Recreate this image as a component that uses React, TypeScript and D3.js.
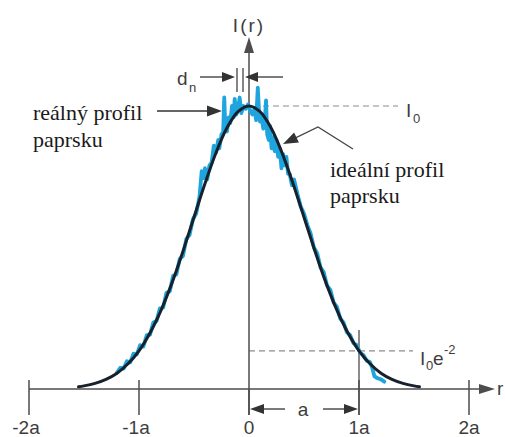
import React from "react";
import * as d3 from "d3";

// Axis ticks (in units of the beam radius a)
const tickValues = [-2, -1, 0, 1, 2];
const tickLabels = ["-2a", "-1a", "0", "1a", "2a"];

// Ideal Gaussian beam profile, I/I0 sampled along r/a
const idealR = [-1.55, -1.5, -1.4, -1.3, -1.2, -1.1, -1.0, -0.9, -0.8, -0.7, -0.6, -0.5, -0.4, -0.3, -0.2, -0.1, 0,
  0.1, 0.2, 0.3, 0.4, 0.5, 0.6, 0.7, 0.8, 0.9, 1.0, 1.1, 1.2, 1.3, 1.4, 1.5, 1.55];
const idealI = [0.008, 0.011, 0.020, 0.034, 0.056, 0.089, 0.135, 0.198, 0.278, 0.375, 0.487, 0.607, 0.726, 0.835, 0.923, 0.980, 1.0,
  0.980, 0.923, 0.835, 0.726, 0.607, 0.487, 0.375, 0.278, 0.198, 0.135, 0.089, 0.056, 0.034, 0.020, 0.011, 0.008];

// Measured (real) beam profile, I/I0 along r/a
const realR = [-1.2, -1.17, -1.14, -1.11, -1.08, -1.05, -1.02, -0.99, -0.96, -0.93, -0.9, -0.87, -0.84, -0.81, -0.78,
  -0.75, -0.72, -0.69, -0.66, -0.63, -0.6, -0.57, -0.54, -0.51, -0.48, -0.45, -0.43, -0.41, -0.4, -0.38, -0.36, -0.34,
  -0.32, -0.3, -0.28, -0.27, -0.25, -0.235, -0.225, -0.215, -0.2, -0.185, -0.17, -0.155, -0.14, -0.13, -0.115, -0.1,
  -0.085, -0.07, -0.05, -0.03, -0.01, 0.01, 0.03, 0.05, 0.065, 0.08, 0.09, 0.1, 0.115, 0.13, 0.145, 0.155, 0.165, 0.18,
  0.19, 0.205, 0.22, 0.235, 0.25, 0.265, 0.28, 0.295, 0.31, 0.325, 0.34, 0.355, 0.37, 0.39, 0.41, 0.44, 0.47, 0.5, 0.53,
  0.56, 0.59, 0.62, 0.65, 0.68, 0.71, 0.74, 0.77, 0.8, 0.83, 0.86, 0.89, 0.92, 0.95, 0.98, 1.01, 1.04, 1.07, 1.1, 1.12,
  1.14, 1.17, 1.2, 1.23];
const realI = [0.058, 0.075, 0.072, 0.098, 0.094, 0.125, 0.122, 0.155, 0.15, 0.19, 0.192, 0.235, 0.24, 0.285, 0.288,
  0.34, 0.345, 0.4, 0.405, 0.46, 0.47, 0.53, 0.545, 0.6, 0.62, 0.68, 0.77, 0.745, 0.78, 0.74, 0.79, 0.8,
  0.86, 0.835, 0.88, 0.85, 0.9, 0.905, 1.03, 0.92, 0.91, 0.96, 0.94, 1.0, 0.96, 1.025, 0.97, 0.99,
  1.03, 0.975, 1.0, 0.99, 1.005, 0.985, 0.97, 0.99, 0.95, 1.065, 0.99, 0.945, 0.96, 0.92, 0.96, 1.02, 0.9, 0.88,
  0.93, 0.85, 0.89, 0.84, 0.88, 0.82, 0.85, 0.78, 0.83, 0.79, 0.82, 0.76, 0.76, 0.72, 0.74, 0.69, 0.645, 0.62, 0.58,
  0.55, 0.5, 0.48, 0.43, 0.412, 0.365, 0.35, 0.305, 0.29, 0.248, 0.235, 0.2, 0.19, 0.162, 0.155, 0.128, 0.12, 0.1, 0.095, 0.075,
  0.045, 0.038, 0.034, 0.026];

const W = 505;
const H = 437;

const AXIS = "#4d4d4d";
const LABEL = "#3d3d3d";
const SANS = "'Liberation Sans', Arial, sans-serif";
const SERIF = "'Liberation Serif', 'Times New Roman', serif";

const x = d3.scaleLinear().domain([-2, 2]).range([29, 469]);
const y = d3.scaleLinear().domain([0, 1]).range([389, 106]);

const idealPath = d3
  .line<[number, number]>()
  .x((d) => x(d[0]))
  .y((d) => y(d[1]))
  .curve(d3.curveCatmullRom.alpha(0.5))(idealR.map((r, i) => [r, idealI[i]] as [number, number])) as string;
const realPath = d3
  .line<[number, number]>()
  .x((d) => x(d[0]))
  .y((d) => y(d[1]))
  .curve(d3.curveLinear)(realR.map((r, i) => [r, realI[i]] as [number, number])) as string;

// Filled arrowhead whose tip sits at (tx, ty), pointing along angle (radians)
function Head({ tx, ty, angle, len = 13, half = 5, fill = "#333" }: { tx: number; ty: number; angle: number; len?: number; half?: number; fill?: string }) {
  const c = Math.cos(angle);
  const s = Math.sin(angle);
  const bx = tx - c * len;
  const by = ty - s * len;
  const p = [
    [tx, ty],
    [bx - s * half, by + c * half],
    [bx + s * half, by - c * half],
  ];
  return <polygon points={p.map((q) => q.join(",")).join(" ")} fill={fill} />;
}

export default function App() {
  const x0 = x(0);
  const y0 = y(0);
  const yTop = y(1);
  const yE2 = y(0.135);
  const x1 = x(1);
  const tickTop = y0 - 9;
  const tickBottom = y0 + 26;

  // leader for the ideal-profile label
  const apex = [318, 127];
  const tip = [283, 144];
  const leadAngle = Math.atan2(tip[1] - apex[1], tip[0] - apex[0]);

  return (
    <svg
      width={W}
      height={H}
      style={{ position: "absolute", left: 0, top: 0, background: "#fff" }}
      xmlns="http://www.w3.org/2000/svg"
    >
      {/* reference levels */}
      <line x1={x0 + 14} x2={398} y1={yTop} y2={yTop} stroke="#8c8c8c" strokeWidth={1.2} strokeDasharray="6 4" />
      <line x1={x0} x2={413} y1={yE2} y2={yE2} stroke="#8c8c8c" strokeWidth={1.2} strokeDasharray="6 4" />

      {/* horizontal axis */}
      <line x1={x(-2)} x2={485} y1={y0} y2={y0} stroke={AXIS} strokeWidth={1.5} />
      <Head tx={495} ty={y0} angle={0} len={16} half={5} fill={AXIS} />
      <text x={497} y={y0 + 6} fontFamily={SANS} fontSize={19} fill={LABEL}>r</text>
      {tickValues.map((t, i) => (
        <g key={t}>
          <line x1={x(t)} x2={x(t)} y1={t === 0 ? y0 : tickTop} y2={tickBottom} stroke={AXIS} strokeWidth={1.5} />
          <text x={x(t) - (t < 0 ? 3 : 0)} y={434} textAnchor="middle" fontFamily={SANS} fontSize={19} fill={LABEL}>
            {tickLabels[i]}
          </text>
        </g>
      ))}
      {/* marker at r = a */}
      <line x1={x1} x2={x1} y1={330} y2={tickBottom} stroke={AXIS} strokeWidth={1.3} />

      {/* vertical axis */}
      <line x1={x0} x2={x0} y1={tickBottom} y2={48} stroke={AXIS} strokeWidth={1.5} />
      <Head tx={x0} ty={37} angle={Math.PI / 2 * 3} len={16} half={5} fill={AXIS} />
      <text x={x0} y={32} textAnchor="middle" fontFamily={SANS} fontSize={19} fill={LABEL} letterSpacing={2}>
        I(r)
      </text>

      {/* profiles */}
      <path d={realPath} fill="none" stroke="#1ea4de" strokeWidth={3.8} strokeLinejoin="round" strokeLinecap="round" />
      <path d={idealPath} fill="none" stroke="#17212b" strokeWidth={3} strokeLinecap="round" />

      {/* radius dimension */}
      <line x1={x0 + 10} x2={285} y1={409} y2={409} stroke="#333" strokeWidth={1.3} />
      <Head tx={x0 + 1} ty={409} angle={Math.PI} len={14} half={5} />
      <line x1={323} x2={x1 - 10} y1={409} y2={409} stroke="#333" strokeWidth={1.3} />
      <Head tx={x1 - 1} ty={409} angle={0} len={14} half={5} />
      <text x={303} y={416} textAnchor="middle" fontFamily={SANS} fontSize={19} fill={LABEL}>a</text>

      {/* noise period d_n */}
      <text x={177} y={85} fontFamily={SANS} fontSize={19} fill={LABEL}>d</text>
      <text x={189} y={92} fontFamily={SANS} fontSize={13} fill={LABEL}>n</text>
      <line x1={200} x2={226} y1={77} y2={77} stroke="#333" strokeWidth={1.3} />
      <Head tx={235} ty={77} angle={0} len={13} half={5} />
      <line x1={237} x2={237} y1={68} y2={92} stroke="#333" strokeWidth={1.2} />
      <line x1={243} x2={243} y1={68} y2={92} stroke="#333" strokeWidth={1.2} />
      <line x1={254} x2={283} y1={77} y2={77} stroke="#333" strokeWidth={1.3} />
      <Head tx={245} ty={77} angle={Math.PI} len={13} half={5} />

      {/* level labels */}
      <text x={406} y={117} fontFamily={SANS} fontSize={19} fill={LABEL}>I</text>
      <text x={413} y={123} fontFamily={SANS} fontSize={13} fill={LABEL}>0</text>
      <text x={420} y={365} fontFamily={SANS} fontSize={19} fill={LABEL}>I</text>
      <text x={426} y={370} fontFamily={SANS} fontSize={13} fill={LABEL}>0</text>
      <text x={433} y={365} fontFamily={SANS} fontSize={19} fill={LABEL}>e</text>
      <text x={444} y={354} fontFamily={SANS} fontSize={13} fill={LABEL}>-2</text>

      {/* real profile callout */}
      <text fontFamily={SERIF} fontSize={22} fill="#1a1a1a">
        <tspan x={33} y={120}>reálný profil</tspan>
        <tspan x={33} y={147}>paprsku</tspan>
      </text>
      <line x1={157} x2={210} y1={111} y2={111} stroke="#333" strokeWidth={1.3} />
      <Head tx={222} ty={111} angle={0} len={15} half={5.5} />

      {/* ideal profile callout */}
      <text fontFamily={SERIF} fontSize={22} fill="#1a1a1a">
        <tspan x={330} y={177}>ideální profil</tspan>
        <tspan x={330} y={203}>paprsku</tspan>
      </text>
      <polyline
        points={`353,149 ${apex[0]},${apex[1]} ${tip[0] + Math.cos(leadAngle) * -10},${tip[1] + Math.sin(leadAngle) * -10}`}
        fill="none"
        stroke="#444"
        strokeWidth={1.3}
      />
      <Head tx={tip[0]} ty={tip[1]} angle={leadAngle} len={15} half={5.5} />
    </svg>
  );
}
